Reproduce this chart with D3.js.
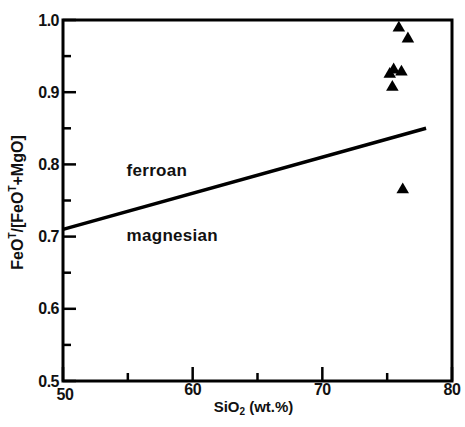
<!DOCTYPE html>
<html><head><meta charset="utf-8">
<script src="https://cdn.jsdelivr.net/npm/d3@7"></script>
<style>
html,body{margin:0;padding:0;background:#fff;}
svg text{font-family:"Liberation Sans",Arial,Helvetica,sans-serif;fill:#111;}
</style></head>
<body><svg id="c" width="465" height="427"></svg>
<script>
// Data
const sio2 = [75.9, 76.6, 75.2, 75.5, 76.1, 75.4, 76.2];
const feoRatio = [0.989, 0.974, 0.925, 0.931, 0.928, 0.907, 0.765];
const boundaryX = [50, 78];
const boundaryY = [0.71, 0.85];
const xMajorTicks = [50, 60, 70, 80];
const xMinorTicks = [55, 65, 75];
const yMajorTicks = [0.5, 0.6, 0.7, 0.8, 0.9, 1.0];
const yMinorTicks = [0.55, 0.65, 0.75, 0.85, 0.95];
const fieldLabels = ["ferroan", "magnesian"];
const fieldLabelX = [54.9, 54.9];
const fieldLabelY = [0.784, 0.694];

const svg = d3.select("#c");
const L = 63, R = 452, T = 20, B = 381;
const x = d3.scaleLinear().domain([50, 80]).range([L, R]);
const y = d3.scaleLinear().domain([0.5, 1.0]).range([B, T]);

// Boundary line
svg.append("path")
  .datum(boundaryX.map((v, i) => [v, boundaryY[i]]))
  .attr("d", d3.line().x(d => x(d[0])).y(d => y(d[1])))
  .attr("stroke", "#000").attr("stroke-width", 3.5).attr("fill", "none");

// Frame
svg.append("rect").attr("x", L).attr("y", T).attr("width", R - L).attr("height", B - T)
  .attr("fill", "none").attr("stroke", "#000").attr("stroke-width", 3);

// Y axis ticks
const gy = svg.append("g");
gy.selectAll("line.maj").data(yMajorTicks).join("line")
  .attr("x1", L).attr("x2", L + 13).attr("y1", d => y(d)).attr("y2", d => y(d))
  .attr("stroke", "#000").attr("stroke-width", 2.5);
gy.selectAll("line.min").data(yMinorTicks).join("line")
  .attr("x1", L).attr("x2", L + 8).attr("y1", d => y(d)).attr("y2", d => y(d))
  .attr("stroke", "#000").attr("stroke-width", 2.5);
gy.selectAll("text").data(yMajorTicks).join("text")
  .attr("x", L - 4).attr("y", d => y(d) + 5.5)
  .attr("text-anchor", "end").attr("font-size", 16).attr("font-weight", "bold")
  .attr("letter-spacing", -0.5)
  .text(d => d3.format(".1f")(d));

// X axis ticks
const gx = svg.append("g");
gx.selectAll("line.maj").data(xMajorTicks).join("line")
  .attr("x1", d => x(d)).attr("x2", d => x(d)).attr("y1", B).attr("y2", B - 14)
  .attr("stroke", "#000").attr("stroke-width", 2.5);
gx.selectAll("line.min").data(xMinorTicks).join("line")
  .attr("x1", d => x(d)).attr("x2", d => x(d)).attr("y1", B).attr("y2", B - 8)
  .attr("stroke", "#000").attr("stroke-width", 2.5);
gx.selectAll("text").data(xMajorTicks).join("text")
  .attr("x", d => x(d) + (d === 50 ? 2 : 0)).attr("y", d => B + (d === 50 ? 19 : 14))
  .attr("text-anchor", "middle").attr("font-size", 16).attr("font-weight", "bold")
  .attr("letter-spacing", -0.5)
  .text(d => d);

// Axis titles
const xt = svg.append("text").attr("x", (L + R) / 2 - 4).attr("y", 412)
  .attr("text-anchor", "middle").attr("font-size", 15).attr("font-weight", "bold");
xt.append("tspan").text("SiO");
xt.append("tspan").attr("font-size", 10).attr("dy", 3).text("2");
xt.append("tspan").attr("dy", -3).text(" (wt.%)");

const yt = svg.append("text").attr("transform", `translate(23,${(T + B) / 2 + 2}) rotate(-90)`)
  .attr("text-anchor", "middle").attr("font-size", 16).attr("font-weight", "bold");
yt.append("tspan").text("FeO");
yt.append("tspan").attr("font-size", 10).attr("dy", -7).text("T");
yt.append("tspan").attr("dy", 7).text("/[FeO");
yt.append("tspan").attr("font-size", 10).attr("dy", -7).text("T");
yt.append("tspan").attr("dy", 7).text("+MgO]");

// Field labels
svg.selectAll("text.field").data(fieldLabels).join("text").attr("class", "field")
  .attr("x", (d, i) => x(fieldLabelX[i])).attr("y", (d, i) => y(fieldLabelY[i]))
  .attr("font-size", 17).attr("font-weight", "bold").attr("letter-spacing", 0.3)
  .text(d => d);

// Points
const sym = d3.symbol().type(d3.symbolTriangle).size(68);
svg.selectAll("path.pt").data(sio2.map((v, i) => [v, feoRatio[i]])).join("path")
  .attr("class", "pt")
  .attr("transform", d => `translate(${x(d[0])},${y(d[1])})`)
  .attr("d", sym).attr("fill", "#000");
</script></body></html>
